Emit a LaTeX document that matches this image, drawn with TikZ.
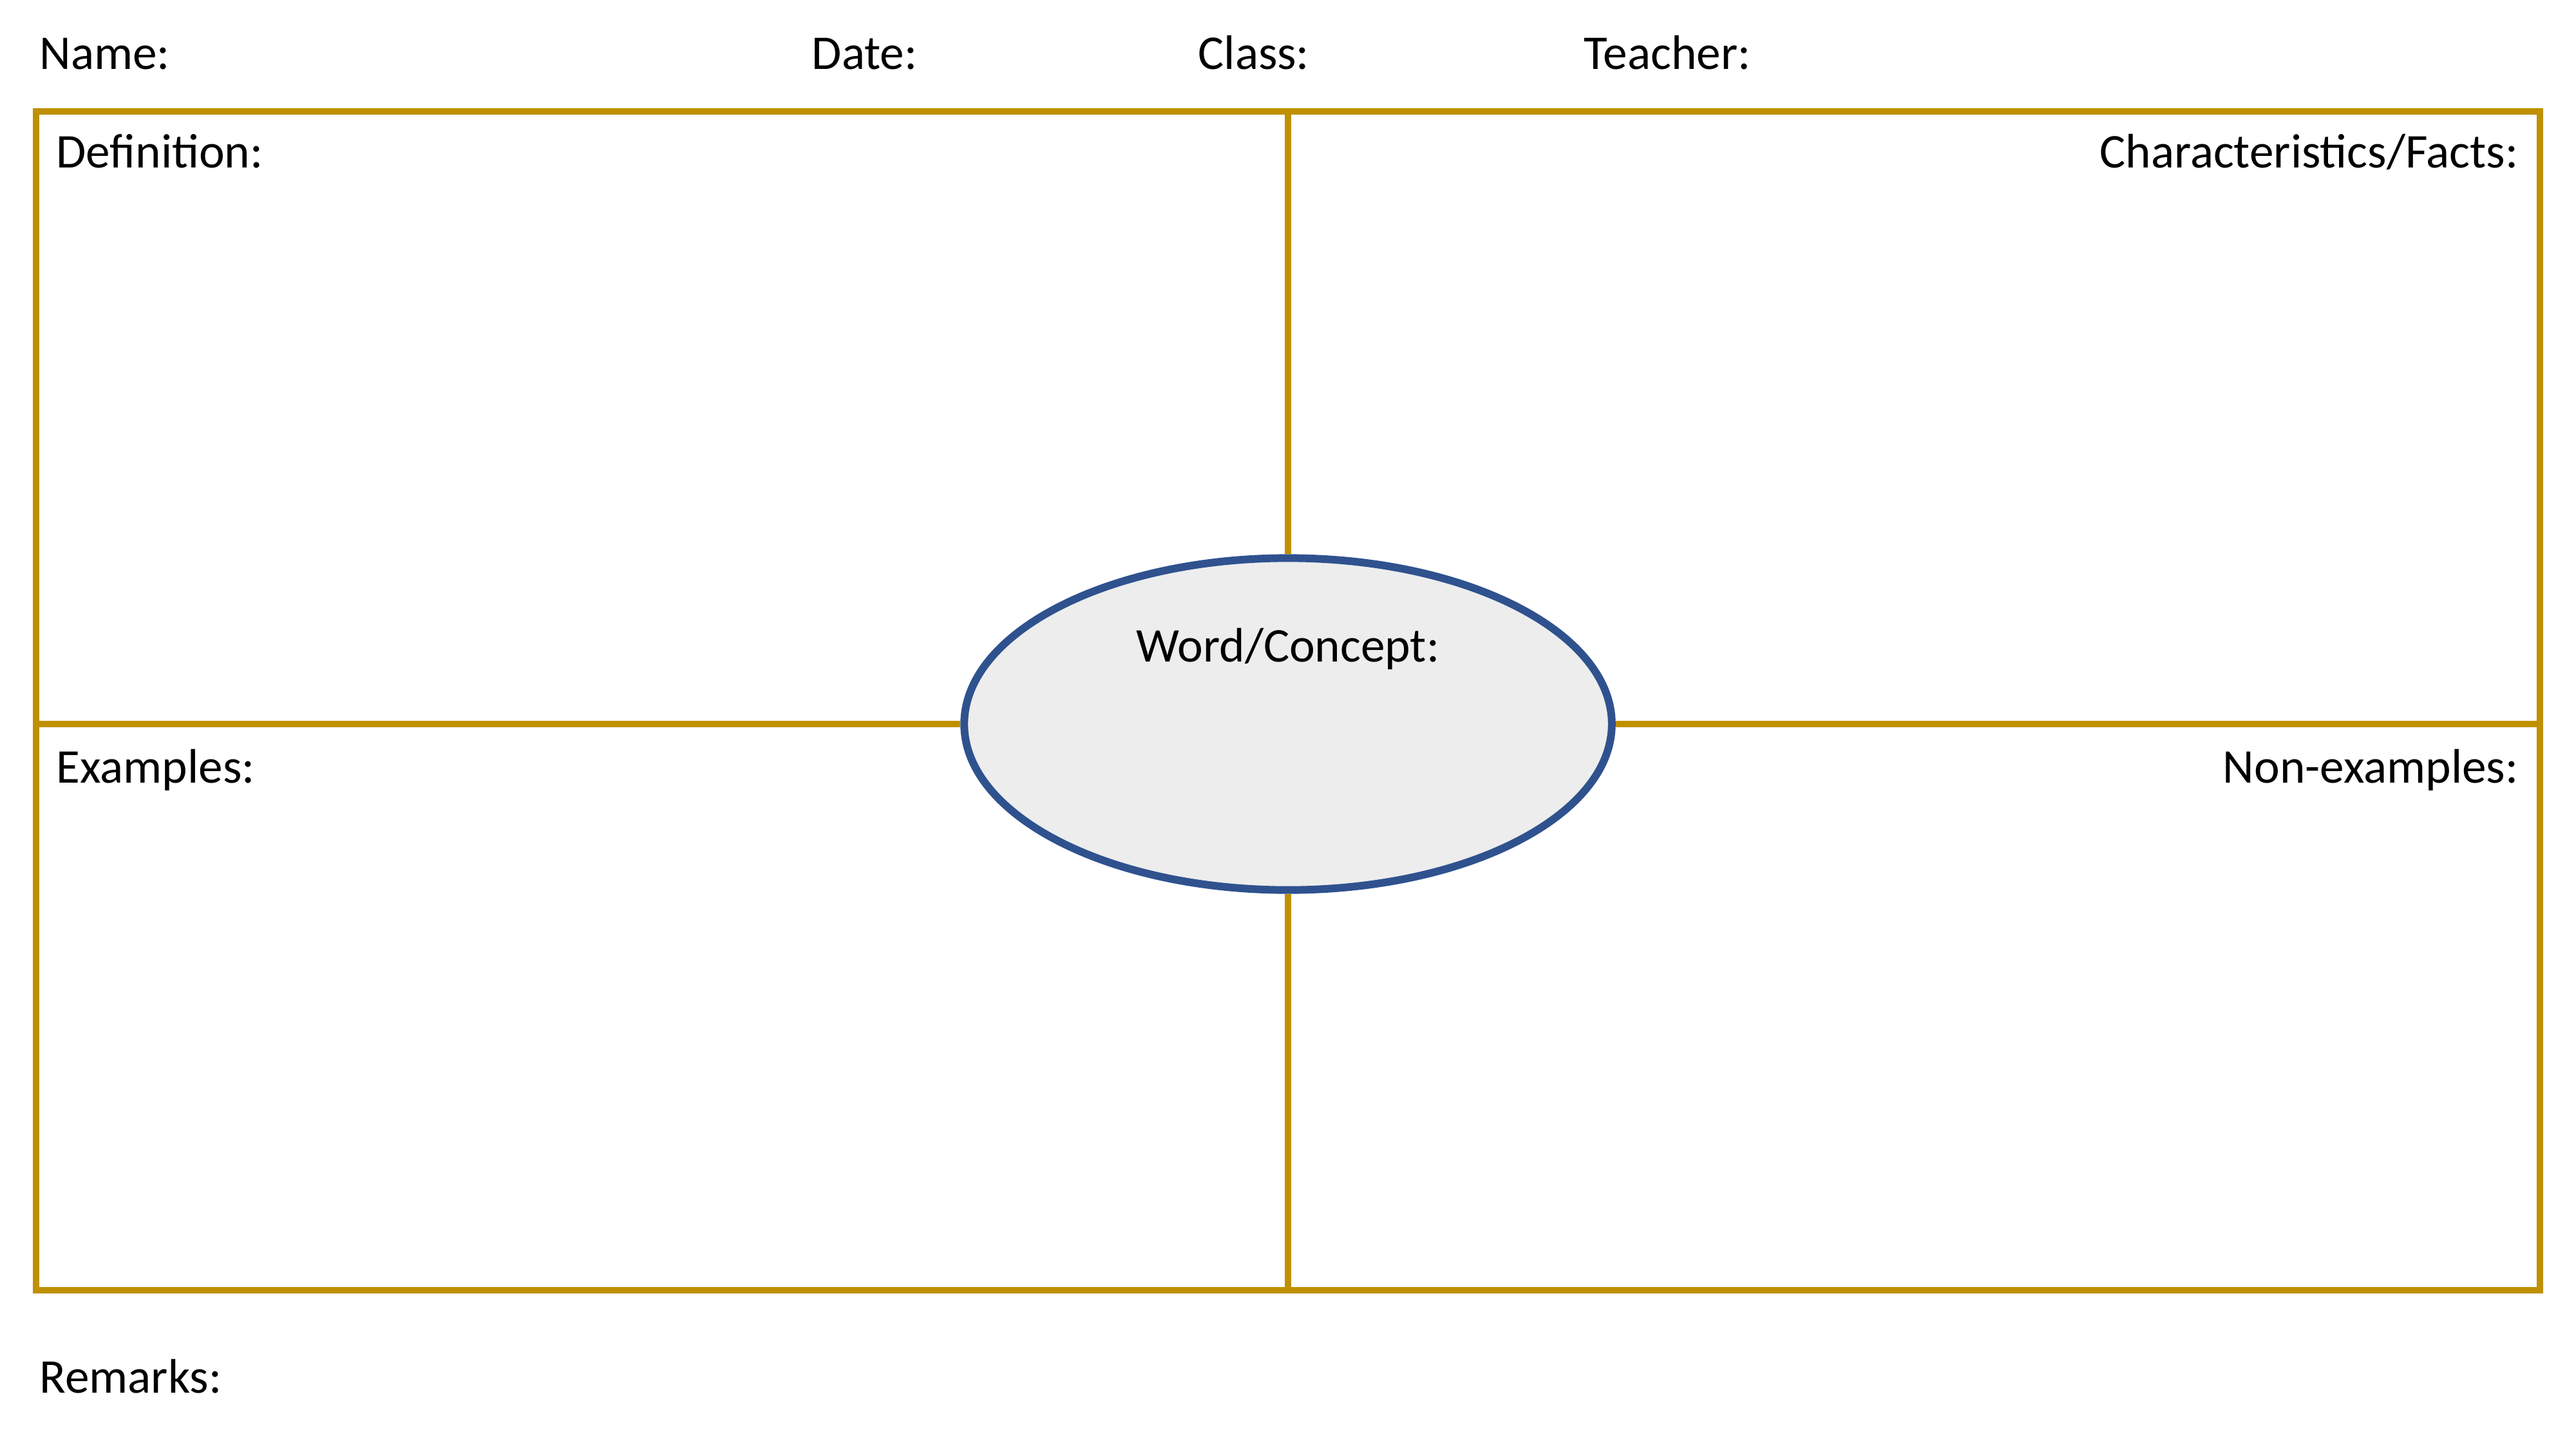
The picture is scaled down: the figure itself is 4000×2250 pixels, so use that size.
\documentclass[tikz,border=0pt]{standalone}
\usepackage{fontspec}
\setmainfont{Carlito}
\usetikzlibrary{shapes.geometric}
\definecolor{gold}{RGB}{191,144,0}
\definecolor{eblue}{RGB}{47,82,143}
\definecolor{efill}{RGB}{237,237,237}
\begin{document}
\begin{tikzpicture}[x=0.01cm,y=-0.01cm,
  frame/.style={draw=gold,line width=2.7pt},
  lbl/.style={inner sep=0pt,font=\fontsize{21.4}{25}\selectfont},
  wordnode/.style={ellipse,draw=eblue,fill=efill,line width=3.4pt,inner sep=0pt,minimum width=10.05cm,minimum height=5.15cm}]
\useasboundingbox (0,0) rectangle (4000,2250);
\fill[white] (0,0) rectangle (4000,2250);
% header
\node[lbl,anchor=base west] (name) at (61,107) {Name:};
\node[lbl,anchor=base west] (date) at (1260,107) {Date:};
\node[lbl,anchor=base west] (class) at (1860,107) {Class:};
\node[lbl,anchor=base west] (teacher) at (2459,107) {Teacher:};
% frame
\coordinate (tl) at (56,173);
\coordinate (br) at (3944,2003);
\coordinate (tm) at (2000,173);
\coordinate (bm) at (2000,2003);
\coordinate (lm) at (56,1124);
\coordinate (rm) at (3944,1124);
\draw[frame] (tl) rectangle (br);
\node[wordnode] (word) at (2000,1124) {};
\draw[frame] (tm) -- (word.north);
\draw[frame] (word.south) -- (bm);
\draw[frame] (lm) -- (word.west);
\draw[frame] (word.east) -- (rm);
\node[lbl,anchor=base] (wordlbl) at (2000,1027) {Word/Concept:};
% quadrant labels
\node[lbl,anchor=base west] (def) at (87,260) {Definition:};
\node[lbl,anchor=base east] (char) at (3911,260) {Characteristics/Facts:};
\node[lbl,anchor=base west] (ex) at (87,1215) {Examples:};
\node[lbl,anchor=base east] (nonex) at (3911,1215) {Non-examples:};
% footer
\node[lbl,anchor=base west] (remarks) at (61,2162) {Remarks:};
\end{tikzpicture}
\end{document}
